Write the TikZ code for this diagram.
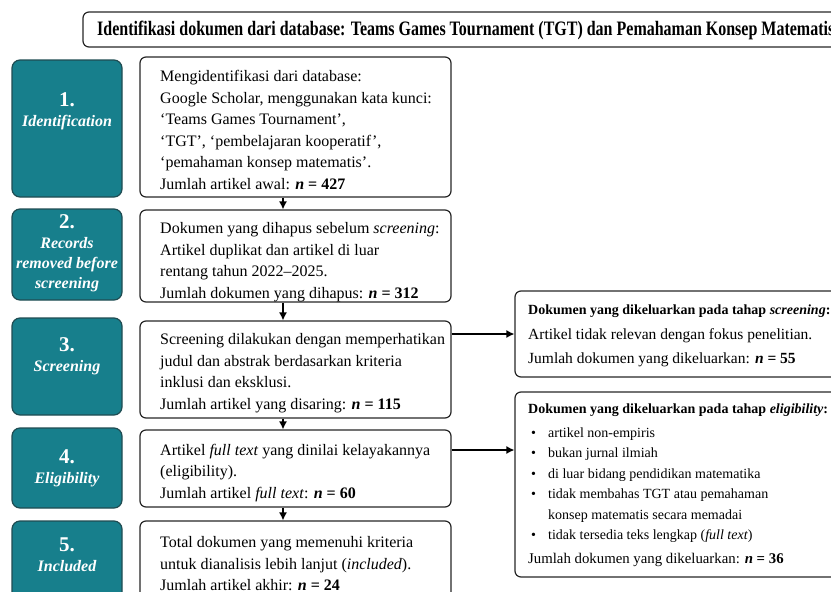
\documentclass[tikz,border=0pt]{standalone}
\usepackage{graphicx}
\usepackage{fontspec}
\setmainfont{Liberation Serif}
\usetikzlibrary{arrows.meta}

\definecolor{stagefill}{HTML}{177F8C}
\definecolor{stageline}{HTML}{1F4C52}
\definecolor{boxline}{HTML}{262626}

\tikzset{
  stage/.style={draw=stageline, fill=stagefill, line width=1.2pt, rounded corners=8pt, minimum width=110pt, inner sep=0pt},
  stagelabel/.style={text=white, align=center, inner sep=0pt, font=\fontsize{16}{20}\selectfont\bfseries\itshape},
  flowbox/.style={draw=boxline, line width=1.2pt, rounded corners=6pt, minimum width=311pt, inner sep=0pt},
  flowtext/.style={anchor=west, align=left, inner sep=0pt, font=\fontsize{16}{21.5}\selectfont},
  exclbox/.style={draw=boxline, line width=1.2pt, rounded corners=6pt, minimum width=340pt, inner sep=0pt},
  excltext/.style={anchor=west, align=left, inner sep=0pt, font=\fontsize{14}{20.5}\selectfont},
  flowarrow/.style={-{Latex[length=8pt,width=8pt]}, line width=1.3pt, draw=black}
}
\newcommand{\stagenum}[1]{{\fontsize{21}{21}\selectfont\upshape #1}}
\newcommand{\itm}{\hspace*{3pt}\makebox[17pt][l]{\textbullet}}
\newcommand{\bigline}[1]{{\fontsize{15.5}{20.5}\selectfont #1}}

\begin{document}
\begin{tikzpicture}[x=1pt,y=-1pt]
    \useasboundingbox (0,0) rectangle (831,592);
    \clip (0,0) rectangle (831,592);

    % title
    \node[draw=boxline, line width=1.2pt, rounded corners=6pt, minimum width=820pt, minimum height=35pt, inner sep=0pt] (title) at (493,29.5) {};
    \node[anchor=west, inner sep=0pt, font=\fontsize{20.5}{20}\selectfont\bfseries] (titletext) at (97,30)
        {\scalebox{0.78}[1]{Identifikasi dokumen dari database: Teams Games Tournament (TGT) dan Pemahaman Konsep Matematis}};

    % stages on the left
    \node[stage, minimum height=137pt] (s1) at (67,128.5) {};
    \node[stage, minimum height=91pt] (s2) at (67,254.5) {};
    \node[stage, minimum height=97pt] (s3) at (67,366.5) {};
    \node[stage, minimum height=80pt] (s4) at (67,468) {};
    \node[stage, minimum height=119pt] (s5) at (67,580.5) {};
    \node[stagelabel] (s1text) at (67,111) {\stagenum{1.}\\Identification};
    \node[stagelabel] (s2text) at (67,253) {\stagenum{2.}\\Records\\removed before\\screening};
    \node[stagelabel] (s3text) at (67,356) {\stagenum{3.}\\Screening};
    \node[stagelabel] (s4text) at (67,468) {\stagenum{4.}\\Eligibility};
    \node[stagelabel] (s5text) at (67,555) {\stagenum{5.}\\Included};

    % main flow
    \node[flowbox, minimum height=140pt] (b1) at (295.5,127) {};
    \node[flowbox, minimum height=92pt] (b2) at (295.5,256) {};
    \node[flowbox, minimum height=97pt] (b3) at (295.5,369.5) {};
    \node[flowbox, minimum height=77pt] (b4) at (295.5,468.5) {};
    \node[flowbox, minimum height=119pt] (b5) at (295.5,580.5) {};
    \node[flowtext] (b1text) at (160,130) {Mengidentifikasi dari database:\\
        Google Scholar, menggunakan kata kunci:\\
        `Teams Games Tournament',\\
        `TGT', `pembelajaran kooperatif',\\
        `pemahaman konsep matematis'.\\
        Jumlah artikel awal: \textbf{\textit{n} = 427}};
    \node[flowtext] (b2text) at (160,262) {Dokumen yang dihapus sebelum \textit{screening}:\\
        Artikel duplikat dan artikel di luar\\
        rentang tahun 2022--2025.\\
        Jumlah dokumen yang dihapus: \textbf{\textit{n} = 312}};
    \node[flowtext] (b3text) at (160,373) {Screening dilakukan dengan memperhatikan\\
        judul dan abstrak berdasarkan kriteria\\
        inklusi dan eksklusi.\\
        Jumlah artikel yang disaring: \textbf{\textit{n} = 115}};
    \node[flowtext] (b4text) at (160,473) {Artikel \textit{full text} yang dinilai kelayakannya\\
        (eligibility).\\
        Jumlah artikel \textit{full text}: \textbf{\textit{n} = 60}};
    \node[flowtext] (b5text) at (160,564) {Total dokumen yang memenuhi kriteria\\
        untuk dianalisis lebih lanjut (\textit{included}).\\
        Jumlah artikel akhir: \textbf{\textit{n} = 24}};

    % excluded records
    \node[exclbox, minimum height=86pt] (exA) at (685,334) {};
    \node[exclbox, minimum height=185pt] (exB) at (685,484.5) {};
    \node[excltext] (exAtext) at (528,336) {\textbf{Dokumen yang dikeluarkan pada tahap \textit{screening}:}\\[4pt]
        \bigline{Artikel tidak relevan dengan fokus penelitian.}\\[4pt]
        \bigline{Jumlah dokumen yang dikeluarkan: \textbf{\textit{n} = 55}}};
    \node[excltext] (exBtext) at (528,485) {\textbf{Dokumen yang dikeluarkan pada tahap \textit{eligibility}:}\\[3pt]
        \itm artikel non-empiris\\
        \itm bukan jurnal ilmiah\\
        \itm di luar bidang pendidikan matematika\\
        \itm tidak membahas TGT atau pemahaman\\
        \hspace*{20pt}konsep matematis secara memadai\\
        \itm tidak tersedia teks lengkap (\textit{full text})\\[3pt]
        {\fontsize{14.8}{20.5}\selectfont Jumlah dokumen yang dikeluarkan: \textbf{\textit{n} = 36}}};

    \draw[flowarrow] ([xshift=-12.5pt]b1.south) -- ([xshift=-12.5pt]b2.north);
    \draw[flowarrow] ([xshift=-12.5pt]b2.south) -- ([xshift=-12.5pt]b3.north);
    \draw[flowarrow] ([xshift=-12.5pt]b3.south) -- ([xshift=-12.5pt]b4.north);
    \draw[flowarrow] ([xshift=-12.5pt]b4.south) -- ([xshift=-12.5pt]b5.north);
    \draw[flowarrow] (b3.east |- exA.west) -- (exA.west);
    \draw[flowarrow] ([yshift=18.5pt]b4.east) -- ([yshift=18.5pt]b4.east -| exB.west);
\end{tikzpicture}
\end{document}
